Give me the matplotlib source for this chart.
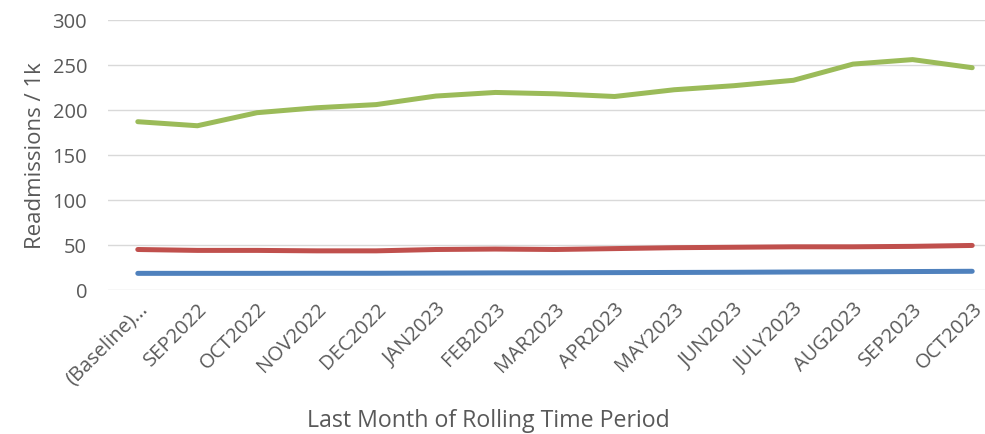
import matplotlib
matplotlib.use("Agg")
import matplotlib.pyplot as plt

# rolling-period readmission rates per 1k
periods = ["(Baseline)...", "SEP2022", "OCT2022", "NOV2022", "DEC2022", "JAN2023",
           "FEB2023", "MAR2023", "APR2023", "MAY2023", "JUN2023", "JULY2023",
           "AUG2023", "SEP2023", "OCT2023"]
green_vals = [187, 182.5, 197, 202.5, 206, 215.5, 219.5, 218, 215, 222.5, 227, 233, 251, 256, 247]
red_vals = [45, 44, 44, 43.5, 43.5, 45, 45.5, 45, 46, 47, 47.5, 48, 48, 48.5, 49.5]
blue_vals = [18.5, 18.5, 18.5, 18.6, 18.6, 18.8, 19, 19.1, 19.3, 19.5, 19.7, 20, 20.2, 20.5, 20.8]

plt.rcParams['font.family'] = ['Open Sans', 'DejaVu Sans']
text_color = '#595959'

fig = plt.figure(figsize=(9.85, 4.35), dpi=100)
ax = fig.add_axes([108 / 985, 144 / 435, 894 / 985, 270 / 435])

x = range(len(periods))
ax.plot(x, green_vals, color='#9BBB59', lw=3.6, solid_capstyle='round', zorder=3)
ax.plot(x, red_vals, color='#C0504D', lw=3.6, solid_capstyle='round', zorder=3)
ax.plot(x, blue_vals, color='#4F81BD', lw=3.6, solid_capstyle='round', zorder=3)

ax.set_xlim(-0.5, len(periods) - 0.5)
ax.set_ylim(0, 300)
ax.set_yticks(range(0, 301, 50))
ax.yaxis.grid(True, color='#D9D9D9', lw=1.0)
ax.set_axisbelow(True)
for s in ax.spines.values():
    s.set_visible(False)

ax.set_xticks(list(x))
ax.set_xticklabels(periods, rotation=45, ha='right', rotation_mode='anchor')
ax.tick_params(axis='both', length=0, colors=text_color, labelsize=14.5)
ax.tick_params(axis='y', pad=15)
ax.tick_params(axis='x', pad=6)

ax.set_ylabel('Readmissions / 1k', fontsize=16, color=text_color, labelpad=5)
fig.text(488 / 985, 1 - 421 / 435, 'Last Month of Rolling Time Period',
         fontsize=16.7, color=text_color, ha='center', va='center')

fig.savefig('out.png', dpi=100)
